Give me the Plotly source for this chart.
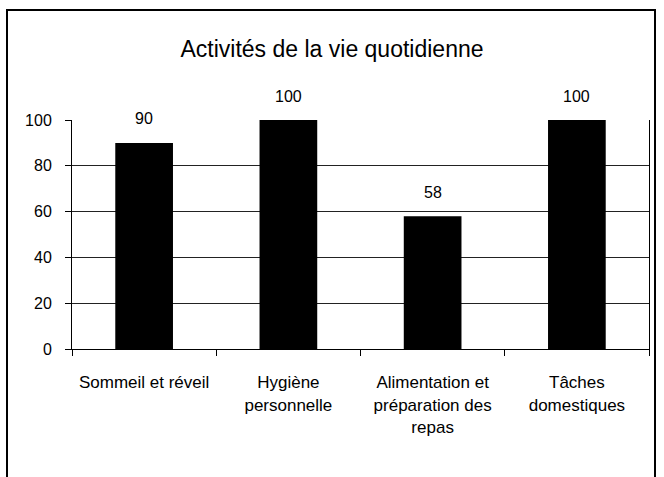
import plotly.graph_objects as go

categories = ["Sommeil et réveil", "Hygiène<br>personnelle",
              "Alimentation et<br>préparation des<br>repas", "Tâches<br>domestiques"]
values = [90, 100, 58, 100]
y_ticks = [0, 20, 40, 60, 80, 100]
title_text = "Activités de la vie quotidienne"

FONT = "Liberation Sans, Arial, sans-serif"

fig = go.Figure()
fig.add_trace(go.Bar(
    x=categories, y=values,
    marker=dict(color="black", line=dict(color="black", width=0)),
    hoverinfo="skip",
))

for c, v in zip(categories, values):
    fig.add_annotation(x=c, y=v, text=str(v), showarrow=False,
                       yanchor="middle", yshift=24,
                       font=dict(family=FONT, size=16, color="black"))

W, H = 664, 477
L, R, T, B = 72, 15, 120, 128
pw, ph = W - L - R, H - T - B
# outer chart border
x0 = (7 - L) / pw
x1 = (655 - L) / pw
y1 = (H - B - 10) / ph
y0 = (H - B - 500) / ph
fig.add_shape(type="rect", xref="paper", yref="paper", x0=x0, x1=x1, y0=y0, y1=y1,
              line=dict(color="black", width=2), fillcolor="rgba(0,0,0,0)", layer="below")

fig.update_layout(
    width=W, height=H,
    margin=dict(l=L, r=R, t=T, b=B, pad=0, autoexpand=False),
    paper_bgcolor="white", plot_bgcolor="white",
    bargap=0.6,
    showlegend=False,
    title=dict(text=title_text, x=0.5, xref="container", xanchor="center",
               y=1 - 49 / H, yref="container", yanchor="middle", automargin=False,
               font=dict(family=FONT, size=23, color="black")),
    font=dict(family=FONT, color="black"),
)
fig.update_xaxes(
    type="category", tickson="boundaries", ticks="outside", ticklen=6,
    tickcolor="black", tickwidth=1, tickangle=0, automargin=False,
    showline=True, linecolor="black", linewidth=1,
    showgrid=False, zeroline=False,
    tickfont=dict(family=FONT, size=17, color="black"),
    ticklabelstandoff=18,
    fixedrange=True,
)
fig.update_yaxes(
    range=[0, 100], tickvals=y_ticks, ticks="outside", ticklen=6,
    tickcolor="black", tickwidth=1, automargin=False,
    showline=True, linecolor="black", linewidth=1, mirror=True,
    showgrid=True, gridcolor="#222", gridwidth=1,
    zeroline=False,
    tickfont=dict(family=FONT, size=16, color="black"),
    ticklabelstandoff=10,
    fixedrange=True,
)

fig.write_html("out.html", config=dict(displayModeBar=False),
               post_script="document.body.style.margin='0';document.body.style.overflow='hidden';")
